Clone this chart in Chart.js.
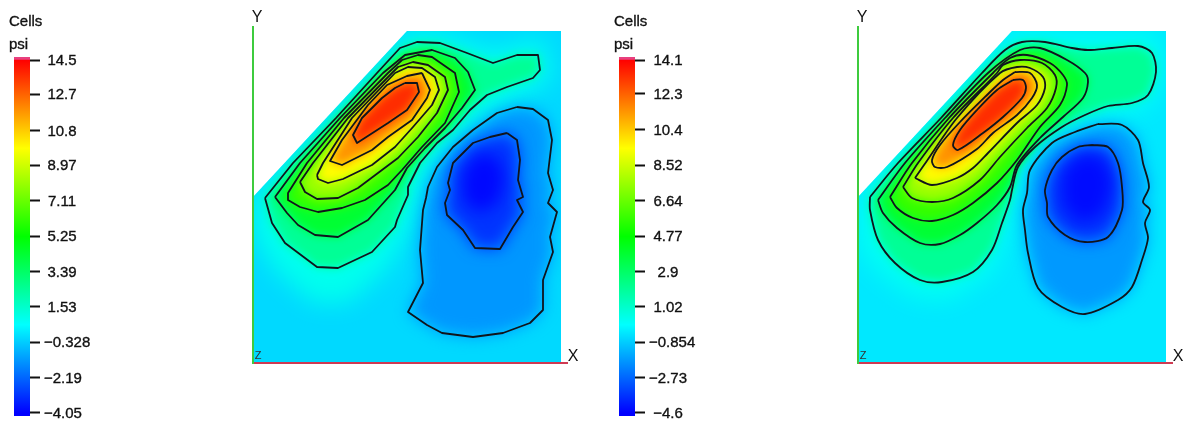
<!DOCTYPE html>
<html>
<head>
<meta charset="utf-8">
<title>Cells psi</title>
<script src="https://cdn.jsdelivr.net/npm/chart.js@4/dist/chart.umd.min.js"></script>
<style>
    html, body { margin: 0; padding: 0; background: #fff; overflow: hidden; }
    body { width: 1188px; height: 423px; position: relative; }
    canvas { position: absolute; top: 0; filter: blur(0.45px); }
</style>
</head>
<body>
<canvas id="legend-left" width="120" height="423" style="left:0"></canvas>
<canvas id="field-left" width="360" height="423" style="left:230px"></canvas>
<canvas id="legend-right" width="120" height="423" style="left:605px"></canvas>
<canvas id="field-right" width="353" height="423" style="left:835px"></canvas>
<script>
const legendTitle = ["Cells", "psi"];
const axisNames = ["X", "Y", "Z"];

const leftTicks = [14.5, 12.7, 10.8, 8.97, 7.11, 5.25, 3.39, 1.53, -0.328, -2.19, -4.05];
const leftTickLabels = ["14.5", "12.7", "10.8", "8.97", "7.11", "5.25", "3.39", "1.53", "−0.328", "−2.19", "−4.05"];
const rightTicks = [14.1, 12.3, 10.4, 8.52, 6.64, 4.77, 2.9, 1.02, -0.854, -2.73, -4.6];
const rightTickLabels = ["14.1", "12.3", "10.4", "8.52", "6.64", "4.77", "2.9", "1.02", "−0.854", "−2.73", "−4.6"];

// outline of the section, same for both plots
const domain = [[0, 0], [308, 0], [308, 332], [154, 332], [0, 166]];

// contour lines, outer to inner
const leftC1 = [[12,165],[40,200],[83,245],[124,290],[147,315],[164,321],[187,320],[214,310],[240,300],[264,308],[285,308],[287,293],[280,285],[254,276],[234,268],[217,253],[200,233],[184,220],[167,200],[155,176],[155,168],[144,143],[142,136],[119,111],[85,95],[64,96],[32,120],[19,140]];
const leftC2 = [[22,166],[34,150],[45,138],[62,128],[85,126],[115,143],[142,173],[154,195],[172,215],[192,235],[209,255],[222,273],[215,291],[202,305],[179,313],[152,308],[130,290],[87,245],[47,200]];
const leftC3 = [[35,170],[35,163],[47,156],[65,151],[89,155],[112,163],[135,178],[149,193],[169,216],[192,240],[206,271],[202,290],[179,306],[165,308],[149,303],[135,290],[91,245],[54,200]];
const leftC4 = [[47,181],[52,171],[64,164],[85,165],[105,175],[125,190],[145,205],[165,226],[184,250],[195,273],[192,286],[175,298],[160,301],[145,296],[139,290],[95,245],[60,200]];
const leftC5 = [[64,188],[65,184],[75,180],[90,184],[119,198],[142,216],[160,236],[179,258],[186,273],[182,286],[169,295],[155,296],[142,290],[99,245],[70,200]];
const leftC6 = [[169,290],[177,273],[174,265],[159,243],[135,226],[119,213],[89,198],[77,202],[89,223],[115,258],[134,278],[154,287]];
const leftC7 = [[152,280],[164,280],[166,271],[154,253],[135,240],[104,220],[100,228],[109,245],[129,265],[142,275]];
const leftD1 = [[264,256],[280,254],[295,243],[299,223],[295,190],[300,173],[295,160],[304,151],[297,126],[300,111],[290,83],[290,53],[277,40],[250,30],[220,26],[189,30],[174,38],[155,51],[170,80],[167,113],[170,153],[173,165],[175,176],[184,196],[200,216],[220,233],[244,250]];
const leftD2 = [[254,230],[264,223],[267,203],[265,183],[270,166],[264,163],[270,151],[260,136],[247,114],[222,115],[210,133],[194,148],[192,160],[197,173],[195,180],[200,200],[220,220],[237,226]];

const rightC1 = [[12,166],[40,200],[83,245],[124,290],[147,313],[164,321],[187,321],[214,315],[230,313],[254,315],[280,317],[294,310],[298,291],[290,268],[274,260],[250,257],[227,248],[204,236],[177,216],[160,196],[154,173],[152,163],[144,140],[134,113],[115,91],[84,81],[62,83],[37,100],[20,123],[12,153]];
const rightC2 = [[20,163],[25,150],[39,135],[62,120],[82,119],[102,128],[119,140],[139,158],[152,176],[159,198],[182,225],[205,246],[225,265],[230,281],[227,290],[209,303],[182,315],[162,313],[130,290],[87,245],[47,200]];
const rightC3 = [[32,166],[39,155],[55,145],[74,142],[95,148],[115,160],[139,180],[159,203],[182,236],[202,258],[209,278],[205,288],[192,300],[169,308],[152,305],[135,290],[91,245],[54,200]];
const rightC4 = [[45,176],[54,165],[74,161],[95,165],[122,183],[142,206],[169,235],[189,255],[198,275],[197,288],[184,300],[162,303],[145,298],[139,290],[95,245],[60,200]];
const rightC5 = [[57,185],[74,178],[99,185],[115,195],[130,210],[159,240],[179,258],[187,275],[185,286],[172,295],[159,296],[142,290],[99,245],[66,198]];
const rightC6 = [[157,291],[172,290],[179,278],[174,265],[159,248],[135,230],[119,214],[89,196],[77,196],[74,203],[82,218],[102,241],[129,268],[145,283]];
const rightC7 = [[155,283],[165,283],[168,275],[164,265],[145,246],[125,230],[100,213],[95,218],[102,233],[119,253],[139,273]];
const rightD1 = [[240,239],[264,238],[280,223],[285,200],[291,176],[285,161],[292,153],[287,140],[290,125],[284,103],[274,76],[260,63],[227,49],[204,56],[180,75],[170,110],[167,133],[165,153],[169,170],[172,193],[194,220],[217,231]];
const rightD2 = [[234,218],[250,216],[260,200],[264,176],[264,153],[250,126],[227,121],[207,128],[190,146],[189,160],[187,173],[194,193],[204,206],[220,216]];

// extra shade patches with no line: the cyan halo and the deep blue core
const leftHalo = [[0,130],[0,166],[154,332],[190,330],[240,312],[290,325],[300,285],[270,268],[235,250],[205,222],[176,190],[160,140],[135,95],[95,60],[60,60],[20,95]];
const leftCore = [[210,190],[225,210],[245,205],[252,185],[245,160],[225,150],[210,165]];
const rightHalo = [[0,115],[0,166],[154,332],[200,330],[300,332],[308,290],[290,255],[250,245],[210,232],[175,205],[156,150],[135,90],[90,62],[55,65],[20,90]];
const rightCore = [[205,190],[222,208],[245,205],[255,180],[245,150],[222,140],[205,160]];

// psi value painted inside each shape, in drawing order
const leftBase = -0.1;
const leftLines = [leftC1, leftC2, leftC3, leftC4, leftC5, leftC6, leftC7, leftD1, leftD2];
const leftFills = [2.5, 4.3, 6.2, 8.0, 9.9, 11.8, 13.7, -1.3, -3.1];
const rightBase = -0.35;
const rightLines = [rightC1, rightC2, rightC3, rightC4, rightC5, rightC6, rightC7, rightD1, rightD2];
const rightFills = [2.0, 3.8, 5.7, 7.6, 9.5, 11.4, 13.3, -1.8, -3.7];

function rainbow(value, min, max) {
    const t = Math.min(1, Math.max(0, (value - min) / (max - min)));
    return "hsl(" + (240 * (1 - t)) + ", 100%, 50%)";
}

function tracePath(ctx, chart, points) {
    const { x, y } = chart.scales;
    ctx.beginPath();
    points.forEach((p, i) => {
        const px = x.getPixelForValue(p[0]);
        const py = y.getPixelForValue(p[1]);
        if (i === 0) ctx.moveTo(px, py); else ctx.lineTo(px, py);
    });
    ctx.closePath();
}

function closed(points) {
    return points.concat([points[0]]).map(p => ({ x: p[0], y: p[1] }));
}

function makeField(canvasId, setup) {

    const shadePlugin = {
        id: "shade",
        beforeDatasetsDraw(chart) {
            const ctx = chart.ctx;
            const { min, max } = setup;
            ctx.save();
            tracePath(ctx, chart, domain);
            ctx.clip();
            ctx.fillStyle = rainbow(setup.base, min, max);
            ctx.fillRect(0, 0, chart.width, chart.height);

            // halo is soft, the low side fades wider than the high side
            const shapes = [[setup.halo, setup.haloValue, 12]];
            setup.lines.forEach((line, i) => shapes.push([line, setup.fills[i], setup.fills[i] < 0 ? 8 : 5]));
            shapes.push([setup.core, setup.coreValue, 8]);
            for (const [points, value, blur] of shapes) {
                ctx.filter = "blur(" + blur + "px)";
                tracePath(ctx, chart, points);
                ctx.fillStyle = rainbow(value, min, max);
                ctx.fill();
            }
            ctx.restore();
        },
        afterDraw(chart) {
            const ctx = chart.ctx;
            const { x, y } = chart.scales;
            ctx.save();
            ctx.textAlign = "center";
            ctx.textBaseline = "middle";
            ctx.fillStyle = "#111";
            ctx.font = "16px 'Liberation Sans'";
            ctx.fillText(axisNames[0], x.right + 6, y.bottom - 6);
            ctx.fillText(axisNames[1], x.left + 4, y.top - 9);
            ctx.font = "11px 'Liberation Sans'";
            ctx.fillStyle = "#333";
            ctx.fillText(axisNames[2], x.left + 5, y.bottom - 7);
            ctx.restore();
        }
    };

    new Chart(document.getElementById(canvasId), {
        type: "scatter",
        data: {
            datasets: setup.lines.map(line => ({
                data: closed(line),
                showLine: true,
                fill: false,
                borderColor: "#10141c",
                borderWidth: 1.8,
                borderJoinStyle: "round",
                tension: setup.tension,
                pointRadius: 0,
                clip: false
            }))
        },
        options: {
            responsive: false,
            animation: false,
            layout: { padding: { left: 23, right: setup.paddingRight, top: 27, bottom: 60 } },
            plugins: { legend: { display: false }, tooltip: { enabled: false } },
            scales: {
                x: {
                    type: "linear", min: 0, max: 314,
                    grid: { display: false },
                    border: { color: "#cf3a52", width: 2, z: 2 },
                    ticks: { display: false },
                    afterFit: s => { s.height = 0; }
                },
                y: {
                    type: "linear", min: 0, max: 336,
                    grid: { display: false },
                    border: { color: "#3ecb3e", width: 2, z: 2 },
                    ticks: { display: false },
                    afterFit: s => { s.width = 0; }
                }
            }
        },
        plugins: [shadePlugin]
    });
}

function makeLegend(canvasId, ticks, labels, floor, ceil, center) {

    const min = ticks[ticks.length - 1];
    const max = ticks[0];

    const textPlugin = {
        id: "legendText",
        afterDraw(chart) {
            const ctx = chart.ctx;
            const y = chart.scales.y;
            ctx.save();
            ctx.fillStyle = "#111";
            ctx.strokeStyle = "#111";
            ctx.lineWidth = 0.35;
            ctx.font = "15px 'Liberation Sans'";
            ctx.textBaseline = "middle";
            ctx.textAlign = "left";
            const put = (text, px, py) => {
                ctx.fillText(text, px, py);
                ctx.strokeText(text, px, py);
            };
            put(legendTitle[0], 9, 22);
            put(legendTitle[1], 9, 45);
            ticks.forEach((v, i) => {
                const w = ctx.measureText(labels[i]).width;
                put(labels[i], Math.max(44, center - w / 2), y.getPixelForValue(v) + 1);
            });
            ctx.restore();
        }
    };

    const gradient = context => {
        const chart = context.chart;
        if (!chart.chartArea) return "#00f";
        const y = chart.scales.y;
        const g = chart.ctx.createLinearGradient(0, y.getPixelForValue(min), 0, y.getPixelForValue(max));
        [0, 0.25, 0.5, 0.75, 1].forEach(t => g.addColorStop(t, rainbow(t, 0, 1)));
        return g;
    };

    new Chart(document.getElementById(canvasId), {
        type: "bar",
        data: {
            labels: ["psi"],
            datasets: [
                { data: [[floor, max]], backgroundColor: gradient, grouped: false, barPercentage: 1, categoryPercentage: 1 },
                { data: [[max, ceil]], backgroundColor: "#e8407f", grouped: false, barPercentage: 1, categoryPercentage: 1 }
            ]
        },
        options: {
            responsive: false,
            animation: false,
            layout: { padding: { left: 14, right: 80, top: 57, bottom: 7 } },
            plugins: { legend: { display: false }, tooltip: { enabled: false } },
            scales: {
                x: { display: false },
                y: {
                    position: "right",
                    min: floor, max: ceil,
                    afterBuildTicks: s => { s.ticks = ticks.map(v => ({ value: v })); },
                    grid: { drawOnChartArea: false, tickLength: 10, tickColor: "#111", tickWidth: 2 },
                    border: { display: false },
                    ticks: { display: false },
                    afterFit: s => { s.width = 10; }
                }
            }
        },
        plugins: [textPlugin]
    });
}

makeLegend("legend-left", leftTicks, leftTickLabels, -4.21, 14.66, 62);
makeLegend("legend-right", rightTicks, rightTickLabels, -4.76, 14.26, 63);

makeField("field-left", {
    min: -4.05, max: 14.5, base: leftBase, lines: leftLines, fills: leftFills,
    halo: leftHalo, haloValue: 0.9, core: leftCore, coreValue: -3.9,
    tension: 0, paddingRight: 23
});
makeField("field-right", {
    min: -4.6, max: 14.1, base: rightBase, lines: rightLines, fills: rightFills,
    halo: rightHalo, haloValue: 0.3, core: rightCore, coreValue: -4.4,
    tension: 0.3, paddingRight: 16
});
</script>
</body>
</html>
